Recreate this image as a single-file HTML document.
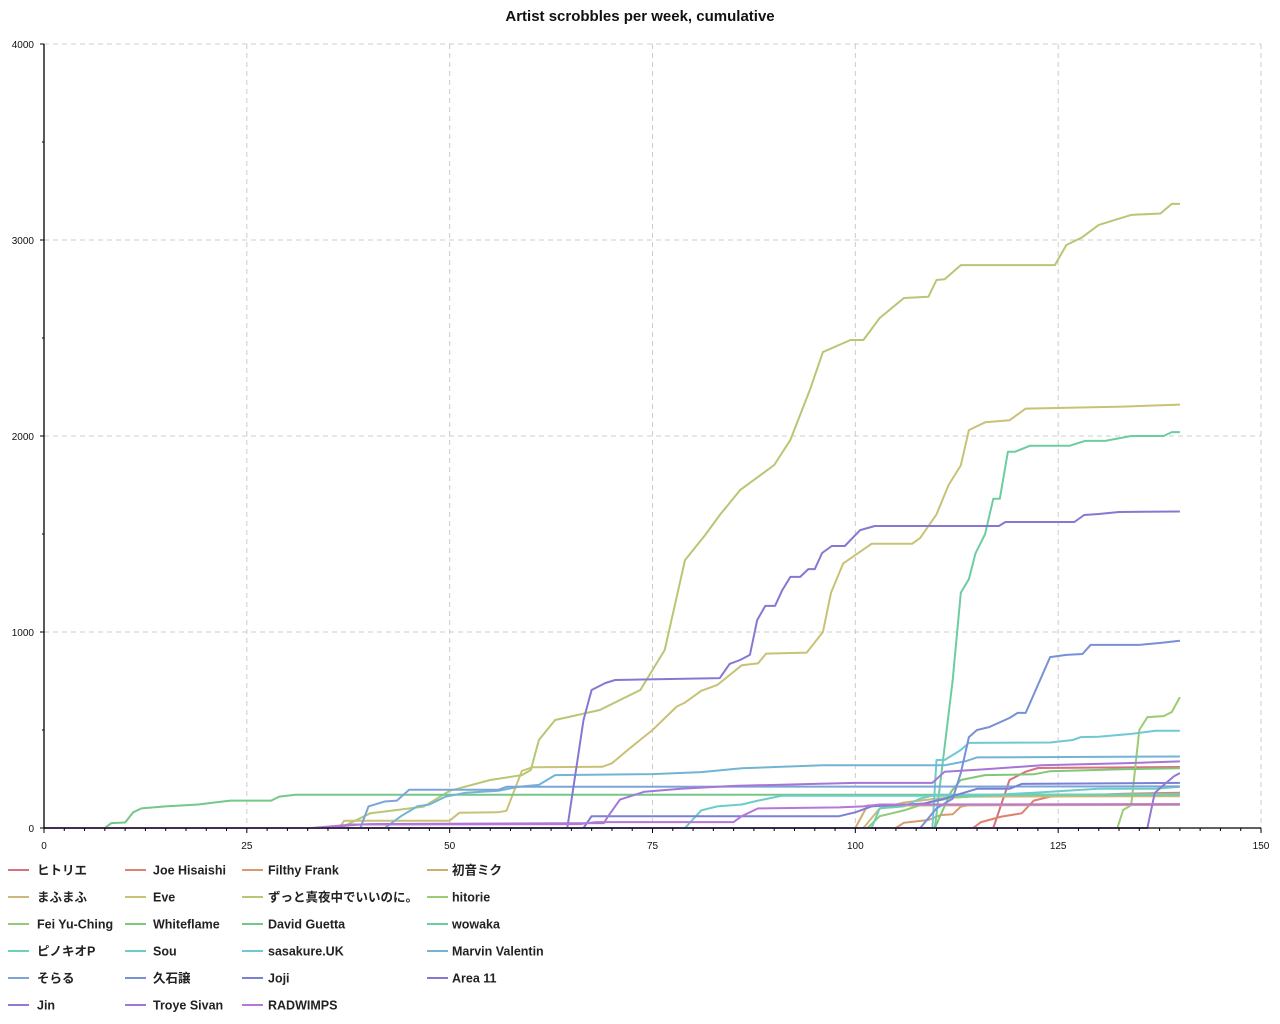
<!DOCTYPE html>
<html><head><meta charset="utf-8"><style>
body{margin:0;background:#fff;width:1280px;height:1024px;overflow:hidden;font-family:"Liberation Sans","Noto Sans CJK JP",sans-serif}
svg{display:block}
</style></head><body>
<svg id="chart" width="1280" height="1024" xmlns="http://www.w3.org/2000/svg">
<text x="640" y="21" text-anchor="middle" font-size="15" font-weight="bold" fill="#111">Artist scrobbles per week, cumulative</text>
<g id="grid"></g>
<g id="series"></g>
<g id="axes"></g>
<g id="legend"></g>
</svg>
<script>
const xTicks=[0,25,50,75,100,125,150];
const yTicks=[0,1000,2000,3000,4000];
const names=["ヒトリエ","Joe Hisaishi","Filthy Frank","初音ミク","まふまふ","Eve","ずっと真夜中でいいのに。","hitorie","Fei Yu-Ching","Whiteflame","David Guetta","wowaka","ピノキオP","Sou","sasakure.UK","Marvin Valentin","そらる","久石譲","Joji","Area 11","Jin","Troye Sivan","RADWIMPS"];
const colors=["#d9707f","#e0806e","#d99a70","#cfae72","#cdb77a","#c9c276","#b5c873","#9ccb72","#8fcc74","#80c878","#74c787","#6ccda0","#6dd0b8","#6ccdc8","#70c8d2","#72b4d4","#7ca4d8","#7790d6","#7a80d4","#8678d2","#9478d2","#a676d4","#b876d8"];
// each series: [week, cumulative] key points
const s0=[[0,0],[117,0],[119,245],[121,287],[122.5,306],[140,311]];
const s1=[[0,0],[114.5,0],[115.5,30],[118,58],[120.5,75],[122,140],[124,160],[133,175],[140,180]];
const s2=[[0,0],[105,0],[106,27],[109,41],[110.5,66],[112,70],[113,109],[114,117],[140,120]];
const s3=[[0,0],[100,0],[101.5,115],[140,118]];
const s4=[[0,0],[101,0],[103,100],[106,130],[110,150],[114,160],[140,162]];
const s5=[[0,0],[36.4,0],[37,37],[50,37],[51.2,78],[55.9,80],[57,88],[58.9,292],[60.3,310],[68.8,312],[70,330],[72,400],[75,500],[78,620],[79,640],[81,700],[83,730],[86,830],[88,840],[89,890],[94,895],[96,1000],[97,1200],[98.5,1350],[102,1450],[107,1450],[108,1480],[110,1600],[111.5,1750],[113,1850],[114,2030],[116,2070],[119,2080],[121,2140],[133,2150],[140,2160]];
const s6=[[0,0],[36.5,0],[40.2,75],[46.8,109],[50,190],[55,245],[58.9,270],[60,296],[61,449],[63,551],[68.5,602],[73.5,704],[76.5,908],[79,1367],[81.5,1495],[83.3,1597],[85.8,1724],[90,1852],[92,1980],[94.4,2235],[96,2428],[99.4,2490],[101,2490],[103,2602],[106,2704],[109,2710],[110,2796],[111,2800],[113,2872],[124.6,2872],[126,2974],[128,3015],[130,3077],[134,3128],[137.6,3135],[139,3184],[140,3184]];
const s7=[[0,0],[132.3,0],[133,92],[134,117],[135,500],[136,566],[138,571],[139,592],[140,668]];
const s8=[[0,0],[101.5,0],[103,60],[106,90],[109,130],[112,155],[118,170],[140,172]];
const s9=[[0,0],[109.8,0],[111.8,185],[113,245],[116,270],[122,274],[124,290],[133,300],[140,305]];
const s10=[[0,0],[7.5,0],[8.3,25],[10,28],[11,80],[12,100],[15,110],[19,120],[21,130],[23,140],[28,140],[29,160],[31,170],[140,170]];
const s11=[[0,0],[109.8,0],[112,755],[113,1200],[114,1270],[114.8,1400],[116,1500],[117,1680],[117.8,1680],[118.8,1920],[119.7,1920],[121.5,1950],[126.4,1950],[128.3,1975],[130.8,1975],[134,2000],[138,2000],[139,2020],[140,2020]];
const s12=[[0,0],[102,0],[103,100],[106,110],[108,150],[110,170],[140,172]];
const s13=[[0,0],[79,0],[81,90],[83,110],[86,120],[88,140],[91,165],[115,165],[122,180],[126,190],[130,200],[137,200],[140,210]];
const s14=[[0,0],[109.5,0],[110,347],[111,347],[113,398],[114,434],[124,436],[126.8,449],[127.8,464],[130,466],[134,480],[137,496],[140,496]];
const s15=[[0,0],[42,0],[44,60],[46,110],[47.5,120],[49.5,160],[52,180],[56,190],[58.5,210],[61,220],[63,270],[75,275],[81,285],[86,305],[96,320],[111,320],[113.5,340],[115,360],[140,365]];
const s16=[[0,0],[39,0],[40,110],[42,135],[43.5,140],[45,195],[56,195],[57,210],[140,212]];
const s17=[[0,0],[108,0],[110,100],[112,150],[113,280],[114,464],[115,500],[116.5,515],[119,561],[120,587],[121,587],[124,872],[126,883],[128,888],[129,934],[135,934],[137.5,944],[140,955]];
const s18=[[0,0],[66.5,0],[67.5,60],[98,60],[100,80],[102,110],[108.5,125],[111,150],[113,175],[115,200],[119,200],[120.5,225],[140,230]];
const s19=[[0,0],[64.5,0],[66.5,551],[67.5,704],[69.2,740],[70.4,755],[83.3,765],[84.5,837],[85.8,857],[87,883],[87.9,1061],[88.9,1133],[90.1,1133],[91,1214],[92,1281],[93.2,1281],[94.2,1321],[95,1321],[95.9,1403],[97.1,1439],[98.7,1439],[100.6,1520],[102.4,1541],[117.7,1541],[118.5,1561],[127,1561],[128.2,1597],[130,1602],[132.5,1612],[140,1615]];
const s20=[[0,0],[136,0],[136.9,178],[137.7,209],[139.3,265],[140,280]];
const s21=[[0,0],[34,0],[38,15],[40,20],[69,25],[69.5,58],[71,145],[74,185],[78.5,200],[85,215],[95,225],[100,230],[109.5,230],[111,287],[116,300],[123,320],[133,330],[140,340]];
const s22=[[0,0],[33,0],[38,18],[66,20],[68,30],[85,30],[86,60],[88,100],[98,105],[101,110],[103,120],[140,122]];
const seriesData=[s0,s1,s2,s3,s4,s5,s6,s7,s8,s9,s10,s11,s12,s13,s14,s15,s16,s17,s18,s19,s20,s21,s22];

const X0=44,X1=1261,Y0=828,Y1=44,XMAX=150,YMAX=4000;
const sx=v=>X0+(v/XMAX)*(X1-X0);
const sy=v=>Y0-(v/YMAX)*(Y0-Y1);
const NS="http://www.w3.org/2000/svg";
function mk(tag,attrs,parent){const e=document.createElementNS(NS,tag);for(const k in attrs)e.setAttribute(k,attrs[k]);parent.appendChild(e);return e;}
const grid=document.getElementById('grid'),axes=document.getElementById('axes'),ser=document.getElementById('series'),leg=document.getElementById('legend');
xTicks.forEach(t=>{if(t>0){const l=mk('line',{x1:sx(t),x2:sx(t),y1:Y1,y2:Y0,stroke:'#ccc','stroke-dasharray':'5,4'},grid);}});
yTicks.forEach(t=>{if(t>0){const l=mk('line',{x1:X0,x2:X1,y1:sy(t),y2:sy(t),stroke:'#ccc','stroke-dasharray':'5,4'},grid);}});
seriesData.forEach((d,i)=>{const p=mk('polyline',{points:d.map(q=>sx(q[0]).toFixed(1)+','+sy(q[1]).toFixed(1)).join(' '),fill:'none',stroke:colors[i],'stroke-width':2,'stroke-linejoin':'round'},ser);

});
const ax=mk('path',{d:`M${X0},${Y1}V${Y0}H${X1}`,fill:'none',stroke:'#000','stroke-width':1.3},axes);


for(let v=0;v<=XMAX;v+=2.5){const major=v%25===0;mk('line',{x1:sx(v),x2:sx(v),y1:Y0,y2:Y0+(major?5:3),stroke:'#000'},axes);}
for(let v=0;v<=YMAX;v+=500){const major=v%1000===0;mk('line',{x1:X0-(major?4:2),x2:X0,y1:sy(v),y2:sy(v),stroke:'#000'},axes);}
xTicks.forEach(t=>{const tx=mk('text',{x:sx(t),y:Y0+21,'text-anchor':'middle','font-size':10,fill:'#111'},axes);tx.textContent=t;

});
yTicks.forEach(t=>{const tx=mk('text',{x:34,y:sy(t)+4,'text-anchor':'end','font-size':10,fill:'#111'},axes);tx.textContent=t;

});
const colLine=[8,125,242,427],colText=[37,153,268,452];
names.forEach((n,i)=>{const r=Math.floor(i/4),c=i%4,y=870+r*27;
const g=mk('g',{},leg);


mk('line',{x1:colLine[c],x2:colLine[c]+21,y1:y,y2:y,stroke:colors[i],'stroke-width':2},g);
const t=mk('text',{x:colText[c],y:y+4.5,'font-size':12.5,'font-weight':'bold',fill:'#222'},g);t.textContent=n;});
</script>
</body></html>
